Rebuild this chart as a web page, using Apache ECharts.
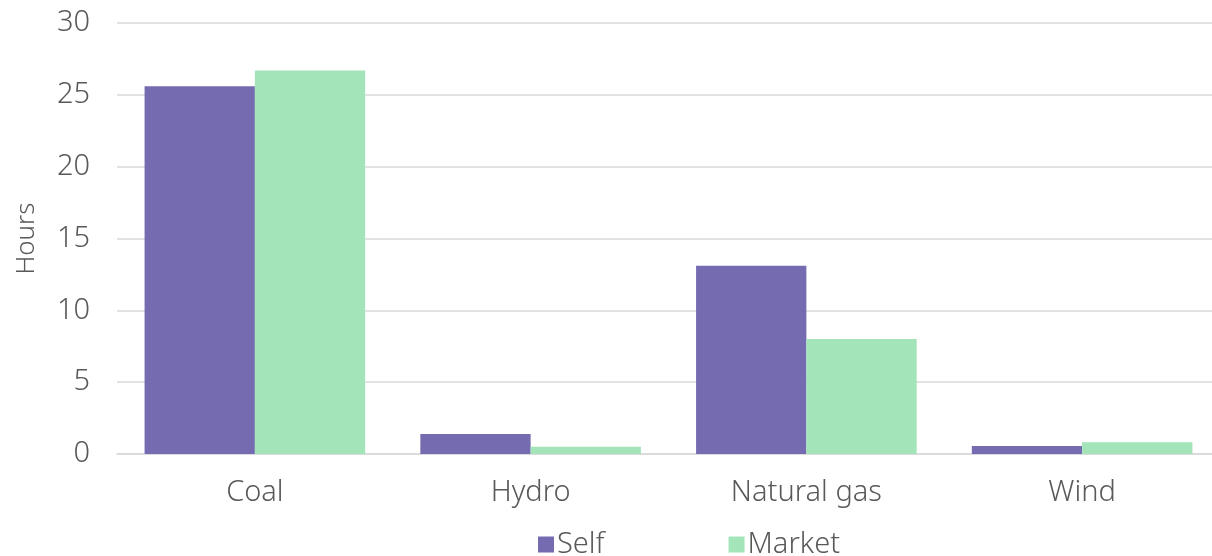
<!DOCTYPE html>
<html>
<head>
<meta charset="utf-8">
<script src="https://cdn.jsdelivr.net/npm/echarts@6/dist/echarts.min.js"></script>
<style>
  html, body { margin: 0; padding: 0; background: #fff; }
  #chart { width: 1212px; height: 556px; }
</style>
</head>
<body>
<div id="chart"></div>
<script>
var categories = ['Coal', 'Hydro', 'Natural gas', 'Wind'];
var selfHours = [25.6, 1.4, 13.1, 0.55];
var marketHours = [26.7, 0.5, 8.0, 0.82];

var chart = echarts.init(document.getElementById('chart'));
var textColor = '#595959';
var font = 'Noto Sans';
var option = {
    animation: false,
    textStyle: { fontFamily: font },
    grid: {
        left: 117,
        right: -8,
        top: 23,
        bottom: 102,
        outerBoundsMode: 'none'
    },
    legend: {
        bottom: -8,
        left: 533,
        itemWidth: 16,
        itemHeight: 16,
        itemGap: 124,
        itemStyle: { borderWidth: 0 },
        icon: 'rect',
        textStyle: { fontSize: 29, color: textColor, fontFamily: font, fontWeight: 300, padding: [0, 0, 0, -2] },
        data: ['Self', 'Market']
    },
    xAxis: {
        type: 'category',
        data: categories,
        axisTick: { show: false },
        axisLine: { lineStyle: { color: '#d9d9d9', width: 1.5 } },
        axisLabel: { fontSize: 29, color: textColor, fontWeight: 300, margin: 24 }
    },
    yAxis: {
        type: 'value',
        name: 'Hours',
        nameLocation: 'middle',
        nameGap: 77,
        nameTextStyle: { fontSize: 26, color: textColor, fontWeight: 300 },
        min: 0,
        max: 30,
        interval: 5,
        axisLabel: { fontSize: 29, color: textColor, fontWeight: 300, margin: 27 },
        splitLine: { lineStyle: { color: '#d9d9d9', width: 1.5 } }
    },
    series: [
        {
            name: 'Self',
            type: 'bar',
            data: selfHours,
            barGap: '0%',
            barCategoryGap: '20%',
            itemStyle: { color: '#756bb1' }
        },
        {
            name: 'Market',
            type: 'bar',
            data: marketHours,
            itemStyle: { color: '#a3e4b9' }
        }
    ]
};
chart.setOption(option);
</script>
</body>
</html>
